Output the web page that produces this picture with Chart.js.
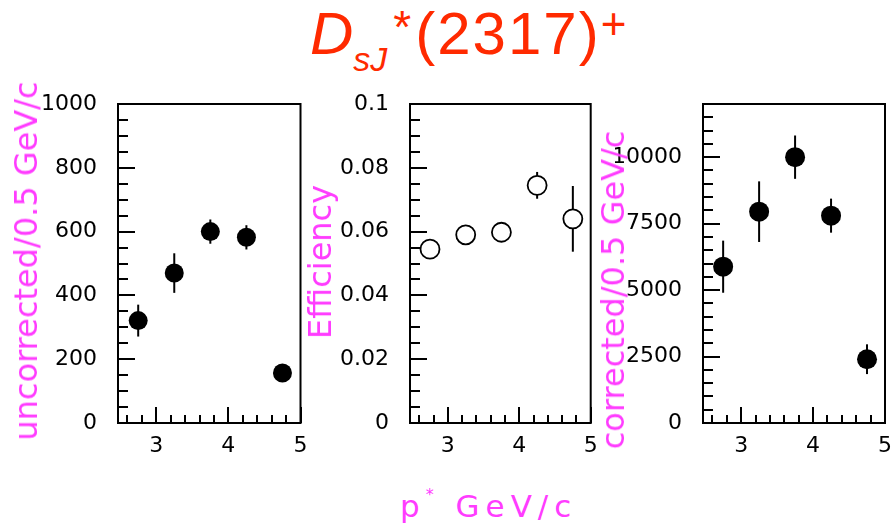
<!DOCTYPE html>
<html lang="en">
<head>
    <meta charset="UTF-8">
    <title>DsJ(2317) yield vs p*</title>
    <script src="https://cdn.jsdelivr.net/npm/chart.js"></script>
    <style>
        html, body {
            margin: 0;
            padding: 0;
            background: #fff;
            overflow: hidden;
        }
        body {
            position: relative;
            width: 892px;
            height: 532px;
        }
        canvas {
            position: absolute;
            top: 90px;
        }
        #title {
            position: absolute;
            left: 310px;
            top: 4px;
            font: 60px "Liberation Sans", Arial, sans-serif;
            line-height: 60px;
            color: #ff2a00;
            white-space: nowrap;
        }
        #title span {
            position: relative;
        }
        .ytitle {
            position: absolute;
            font: 32px "DejaVu Sans", sans-serif;
            line-height: 32px;
            color: #ff3cff;
            white-space: nowrap;
            transform: translate(-50%, -50%) rotate(-90deg);
        }
        #xtitle {
            position: absolute;
            left: 400px;
            top: 485px;
            font: 31px "DejaVu Sans", sans-serif;
            line-height: 31px;
            letter-spacing: 6px;
            color: #ff3cff;
            white-space: nowrap;
        }
        #xtitle sup {
            font-size: 16px;
            position: relative;
            top: -6px;
        }
    </style>
</head>
<body>
    <div id="title"><i>D</i><span style="font-size:34px; top:17px"><i>sJ</i></span><span style="font-size:46px; top:-11px; margin-left:6px; margin-right:4px">*</span><span style="letter-spacing:2px">(2317)</span><span style="font-size:44px; top:-15px">+</span></div>

    <canvas id="rawChart" width="290" height="370" style="left:20px"></canvas>
    <canvas id="effChart" width="272" height="370" style="left:330px"></canvas>
    <canvas id="corrChart" width="280" height="370" style="left:615px"></canvas>

    <div class="ytitle" style="left:26px; top:261px">uncorrected/0.5 GeV/c</div>
    <div class="ytitle" style="left:320px; top:262px">Efficiency</div>
    <div class="ytitle" style="left:613px; top:290px">corrected/0.5 GeV/c</div>
    <div id="xtitle">p<sup>*</sup> GeV/c</div>

    <script>
        // p* bin centres (GeV/c), 0.5 GeV/c wide bins
        const pCenters = [2.75, 3.25, 3.75, 4.25, 4.75];
        const xTickValues = [3, 4, 5];

        const uncorrected = [321, 470, 600, 582, 157];
        const uncorrectedErr = [50, 62, 38, 38, 18];

        const efficiency = [0.0545, 0.059, 0.0598, 0.0745, 0.064];
        const efficiencyErr = [0.0015, 0.0015, 0.0015, 0.0042, 0.0103];

        const corrected = [5880, 7950, 10000, 7800, 2400];
        const correctedErr = [980, 1140, 815, 640, 560];

        const rawTicks = [0, 200, 400, 600, 800, 1000];
        const effTicks = [0, 0.02, 0.04, 0.06, 0.08, 0.1];
        const corrTicks = [0, 2500, 5000, 7500, 10000];

        const tickFont = { family: 'DejaVu Sans', size: 22 };

        function toPoints(ys) {
            return pCenters.map((x, i) => ({ x: x, y: ys[i] }));
        }

        function stepValues(min, max, step) {
            const out = [];
            const k0 = Math.ceil(min / step - 1e-6);
            const k1 = Math.floor(max / step + 1e-6);
            for (let k = k0; k <= k1; k++) out.push(k * step);
            return out;
        }

        function isMultiple(v, step) {
            const r = v / step;
            return Math.abs(r - Math.round(r)) < 1e-6;
        }

        // vertical error bars, drawn under the markers
        const errorBars = {
            id: 'errorBars',
            beforeDatasetsDraw(chart) {
                const { ctx, scales: { x, y } } = chart;
                ctx.save();
                ctx.strokeStyle = '#000';
                ctx.lineWidth = 2;
                chart.data.datasets.forEach(ds => {
                    if (!ds.yErr) return;
                    ds.data.forEach((pt, i) => {
                        const px = x.getPixelForValue(pt.x);
                        ctx.beginPath();
                        ctx.moveTo(px, y.getPixelForValue(pt.y - ds.yErr[i]));
                        ctx.lineTo(px, y.getPixelForValue(pt.y + ds.yErr[i]));
                        ctx.stroke();
                    });
                });
                ctx.restore();
            }
        };

        // closed box with inward tick marks on the left and bottom
        const frame = {
            id: 'frame',
            afterDraw(chart, args, opts) {
                const { ctx, chartArea: a, scales: { x, y } } = chart;
                ctx.save();
                ctx.strokeStyle = '#000';
                ctx.lineWidth = 2;
                ctx.beginPath();
                stepValues(y.min, y.max, opts.yMinor).forEach(v => {
                    const py = Math.round(y.getPixelForValue(v));
                    const len = isMultiple(v, opts.yMajor) ? 17 : 10;
                    ctx.moveTo(a.left, py);
                    ctx.lineTo(a.left + len, py);
                });
                stepValues(x.min, x.max, opts.xMinor).forEach(v => {
                    const px = Math.round(x.getPixelForValue(v));
                    const len = isMultiple(v, opts.xMajor) ? 16 : 8;
                    ctx.moveTo(px, a.bottom);
                    ctx.lineTo(px, a.bottom - len);
                });
                ctx.stroke();
                ctx.strokeRect(a.left, a.top, a.right - a.left, a.bottom - a.top);
                ctx.restore();
            }
        };

        function makePanel(canvasId, data, err, yTicks, opts) {
            return new Chart(document.getElementById(canvasId), {
                type: 'scatter',
                data: {
                    datasets: [{
                        data: toPoints(data),
                        yErr: err,
                        pointStyle: 'circle',
                        pointRadius: opts.radius,
                        pointHoverRadius: opts.radius,
                        backgroundColor: opts.open ? '#fff' : '#000',
                        borderColor: '#000',
                        borderWidth: opts.open ? 1.8 : 0
                    }]
                },
                options: {
                    responsive: false,
                    animation: false,
                    layout: { padding: { top: 14, right: 8, left: 0, bottom: 0 } },
                    plugins: {
                        legend: { display: false },
                        tooltip: { enabled: false },
                        frame: { xMinor: 0.2, xMajor: 1, yMinor: opts.yMinor, yMajor: opts.yMajor }
                    },
                    scales: {
                        x: {
                            type: 'linear',
                            min: 2.47,
                            max: 5,
                            grid: { display: false, drawTicks: false },
                            border: { display: false },
                            ticks: { padding: 10, color: '#000', font: tickFont, maxRotation: 0, autoSkip: false },
                            afterBuildTicks: s => { s.ticks = xTickValues.map(v => ({ value: v })); },
                            afterFit: s => {
                                s.height = 37;
                                s.paddingLeft = 0;
                                s.paddingRight = 0;
                            }
                        },
                        y: {
                            min: 0,
                            max: opts.yMax,
                            grid: { display: false, drawTicks: false },
                            border: { display: false },
                            ticks: {
                                padding: 21,
                                color: '#000',
                                font: tickFont,
                                autoSkip: false,
                                callback: v => String(+v.toFixed(4))
                            },
                            afterBuildTicks: s => { s.ticks = yTicks.map(v => ({ value: v })); },
                            afterFit: s => {
                                s.width = opts.axisWidth;
                                s.paddingTop = 0;
                                s.paddingBottom = 0;
                            }
                        }
                    }
                },
                plugins: [errorBars, frame]
            });
        }

        makePanel('rawChart', uncorrected, uncorrectedErr, rawTicks,
            { yMax: 1000, yMinor: 50, yMajor: 200, axisWidth: 98, radius: 9.5 });
        makePanel('effChart', efficiency, efficiencyErr, effTicks,
            { yMax: 0.1, yMinor: 0.005, yMajor: 0.02, axisWidth: 80, radius: 9.5, open: true });
        makePanel('corrChart', corrected, correctedErr, corrTicks,
            { yMax: 12000, yMinor: 500, yMajor: 2500, axisWidth: 88, radius: 10 });
    </script>
</body>
</html>
